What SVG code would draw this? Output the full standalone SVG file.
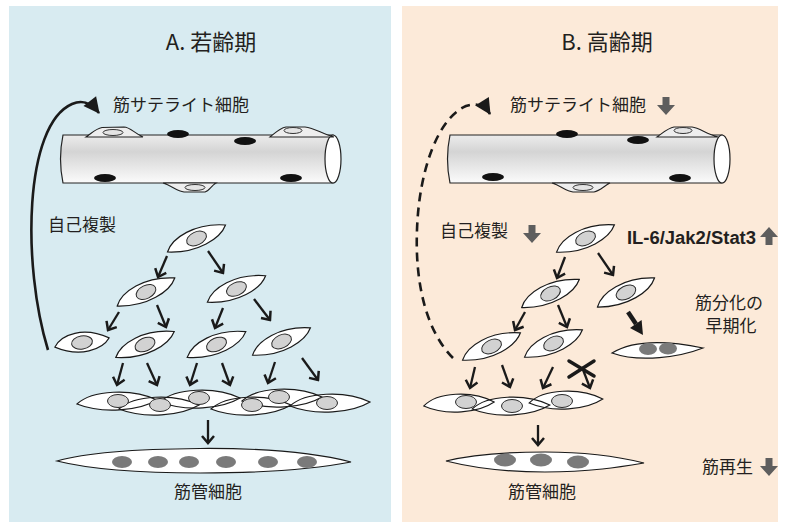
<svg xmlns="http://www.w3.org/2000/svg" xmlns:xlink="http://www.w3.org/1999/xlink" width="786" height="522" viewBox="0 0 786 522">
  <style>
    .lbl { font-family: "Noto Sans CJK JP", "Noto Sans", sans-serif; font-size: 17px; fill: #231f20; }
    .ttl { font-family: "Noto Sans CJK JP", "Noto Sans", sans-serif; font-size: 22px; fill: #231f20; }
    .bold { font-family: "Liberation Sans", Arial, sans-serif; font-weight: bold; font-size: 18px; fill: #231f20; }
    .fiber { fill: url(#fiberGrad); stroke: #222; stroke-width: 1.2; }
    .fend { fill: #ffffff; stroke: #222; stroke-width: 1.2; }
    .bump { fill: #eeeeee; stroke: #222; stroke-width: 1.1; }
    .bnuc { fill: #e4e4e4; stroke: #333; stroke-width: 1; }
    .fnuc { fill: #111; }
    .cell { fill: #ffffff; stroke: #1a1a1a; stroke-width: 1.2; }
    .cfill { fill: #ffffff; stroke: none; }
    .cline { fill: none; stroke: #1a1a1a; stroke-width: 1.2; }
    .nuc { fill: #d2d2d2; stroke: #2a2a2a; stroke-width: 1; }
    .mnuc { fill: #7a7a7a; }
    .arr { fill: none; stroke: #1a1a1a; stroke-width: 2.3; marker-end: url(#chev); }
    .curve { fill: none; stroke: #1a1a1a; stroke-width: 2.6; marker-end: url(#head); }
    .dash { stroke-dasharray: 9 6; }
    .blk { fill: #5e5e5e; }
    .xmark { stroke: #1a1a1a; stroke-width: 3.5; stroke-linecap: round; }
  </style>
  <defs>
    <linearGradient id="fiberGrad" x1="0" y1="0" x2="0" y2="1">
      <stop offset="0" stop-color="#ececec"/>
      <stop offset="0.35" stop-color="#d4d4d4"/>
      <stop offset="1" stop-color="#fbfbfb"/>
    </linearGradient>
    <marker id="chev" viewBox="-9 -8 11 16" refX="0" refY="0" markerWidth="11" markerHeight="16" markerUnits="userSpaceOnUse" orient="auto">
      <path d="M-7,-6 L0,0 L-7,6" fill="none" stroke="#1a1a1a" stroke-width="2.5"/>
    </marker>
    <marker id="head" viewBox="-16 -9 18 18" refX="0" refY="0" markerWidth="18" markerHeight="18" markerUnits="userSpaceOnUse" orient="auto">
      <path d="M-15,-8 L1,0 L-15,8 Z" fill="#1a1a1a"/>
    </marker>
    <!-- spindle-shaped myoblast outline, long axis along x -->
    <path id="sp" d="M-32,0 C-22,-11 5,-15 32,0 C22,10 -5,14 -32,0 Z"/>
    <!-- wavy fusing myoblast outline -->
    <path id="wv" d="M-40,3 C-25,-11 15,-13 40,-1 C22,10 -15,13 -40,3 Z"/>
    <!-- block arrow pointing down -->
    <path id="down" d="M-3.5,0 H3.5 V8 H9 L0,18 L-9,8 H-3.5 Z"/>
  </defs>

  <!-- panels -->
  <rect x="9" y="6" width="382" height="516" fill="#d8ebf1"/>
  <rect x="402" y="6" width="376" height="516" fill="#fcead9"/>

  <text class="ttl" x="211" y="50" text-anchor="middle">A. 若齢期</text>
  <text class="ttl" x="607" y="50" text-anchor="middle">B. 高齢期</text>

  <!-- young muscle fiber -->
  <g id="fiberA">
    <path class="fiber" d="M63,135 L333,135 L333,183 L63,183 Q58,159 63,135 Z"/>
    <ellipse class="fend" cx="333" cy="159" rx="8" ry="24"/>
    <ellipse class="fnuc" cx="178" cy="134" rx="11" ry="4"/>
    <ellipse class="fnuc" cx="245" cy="141" rx="11" ry="4"/>
    <ellipse class="fnuc" cx="105" cy="178" rx="11" ry="4"/>
    <ellipse class="fnuc" cx="291" cy="178" rx="11" ry="4"/>
    <path class="bump" d="M86,137 C92,133 96,128.5 102,127.5 L124,127 C130,127 134,133 143,137 Z"/>
    <ellipse class="bnuc" cx="113" cy="132.5" rx="10" ry="3"/>
    <path class="bump" d="M270,137 C276,132 280,128 286,127 L305,127 C315,128 322,134 334,137 Z"/>
    <ellipse class="bnuc" cx="293" cy="130.5" rx="9" ry="3"/>
    <path class="bump" d="M163,183 C172,186 177,191 184,192 L205,192 C209,191 211,186 216,183 Z"/>
    <ellipse class="bnuc" cx="195" cy="187.5" rx="10" ry="3"/>
  </g>

  <!-- aged muscle fiber -->
  <g id="fiberB">
    <path class="fiber" d="M450,135 L722,135 L722,183 L450,183 Q445,159 450,135 Z"/>
    <ellipse class="fend" cx="722" cy="159" rx="8" ry="24"/>
    <ellipse class="fnuc" cx="567" cy="134" rx="11" ry="4"/>
    <ellipse class="fnuc" cx="638" cy="140" rx="11" ry="4"/>
    <ellipse class="fnuc" cx="493" cy="177" rx="11" ry="4"/>
    <ellipse class="fnuc" cx="680" cy="178" rx="11" ry="4"/>
    <path class="bump" d="M657,137 C664,132 668,128 674,127 L692,127 C700,128 706,134 718,137 Z"/>
    <ellipse class="bnuc" cx="683" cy="130.5" rx="9" ry="3"/>
    <path class="bump" d="M552,183 C561,186 566,191 573,192 L594,192 C600,191 604,186 610,183 Z"/>
    <ellipse class="bnuc" cx="583" cy="187.5" rx="10" ry="3"/>
  </g>

  <!-- young myoblast lineage -->
  <g id="a-c1" transform="translate(196.5,238.5) rotate(-25)"><use href="#sp" class="cell"/><ellipse class="nuc" rx="10.5" ry="6.5"/></g>
  <g id="a-c2a" transform="translate(146,292) rotate(-26)"><use href="#sp" class="cell"/><ellipse class="nuc" rx="10.5" ry="6.5"/></g>
  <g id="a-c2b" transform="translate(236.5,289) rotate(-24.5)"><use href="#sp" class="cell"/><ellipse class="nuc" rx="10.5" ry="6.5"/></g>
  <g id="a-c3a" transform="translate(82,342.5) rotate(-9.5)"><use href="#sp" class="cell" transform="scale(0.86,1.05)"/><ellipse class="nuc" rx="10.5" ry="6.5"/></g>
  <g id="a-c3b" transform="translate(145,344.5) rotate(-24)"><use href="#sp" class="cell"/><ellipse class="nuc" rx="10.5" ry="6.5"/></g>
  <g id="a-c3c" transform="translate(216.5,344.5) rotate(-23.7)"><use href="#sp" class="cell"/><ellipse class="nuc" rx="10.5" ry="6.5"/></g>
  <g id="a-c3d" transform="translate(281.5,341.5) rotate(-25.3)"><use href="#sp" class="cell"/><ellipse class="nuc" rx="10.5" ry="6.5"/></g>

  <!-- young fusing myoblasts -->
  <g id="a-row4">
    <use href="#wv" class="cfill" transform="translate(117,401)"/>
    <use href="#wv" class="cfill" transform="translate(200,399)"/>
    <use href="#wv" class="cfill" transform="translate(282,398)"/>
    <use href="#wv" class="cfill" transform="translate(159,406)"/>
    <use href="#wv" class="cfill" transform="translate(251,406)"/>
    <use href="#wv" class="cfill" transform="translate(330,403)"/>
    <use href="#wv" class="cline" transform="translate(117,401)"/>
    <use href="#wv" class="cline" transform="translate(200,399)"/>
    <use href="#wv" class="cline" transform="translate(282,398)"/>
    <use href="#wv" class="cline" transform="translate(159,406)"/>
    <use href="#wv" class="cline" transform="translate(251,406)"/>
    <use href="#wv" class="cline" transform="translate(330,403)"/>
    <ellipse class="nuc" cx="118" cy="401" rx="10.5" ry="6.5"/>
    <ellipse class="nuc" cx="160" cy="405" rx="10.5" ry="6.5"/>
    <ellipse class="nuc" cx="199" cy="398" rx="10.5" ry="6.5"/>
    <ellipse class="nuc" cx="252" cy="405" rx="10.5" ry="6.5"/>
    <ellipse class="nuc" cx="279" cy="397" rx="10.5" ry="6.5"/>
    <ellipse class="nuc" cx="327" cy="403" rx="10.5" ry="6.5"/>
  </g>

  <!-- young myotube -->
  <g id="a-tube">
    <path class="cell" d="M57,461 C85,453 130,449 200,448.5 C270,448 320,454 351,462 C320,468 270,473 200,473 C130,473 85,468 57,461 Z"/>
    <ellipse class="mnuc" cx="122" cy="462" rx="10" ry="6"/>
    <ellipse class="mnuc" cx="158" cy="462" rx="10" ry="6"/>
    <ellipse class="mnuc" cx="189" cy="462" rx="10" ry="6"/>
    <ellipse class="mnuc" cx="226" cy="462" rx="10" ry="6"/>
    <ellipse class="mnuc" cx="268" cy="462" rx="10" ry="6"/>
    <ellipse class="mnuc" cx="307" cy="462" rx="10" ry="6"/>
  </g>

  <!-- aged myoblast lineage -->
  <g id="b-c1" transform="translate(585.5,238.5) rotate(-25.3)"><use href="#sp" class="cell"/><ellipse class="nuc" rx="10.5" ry="6.5"/></g>
  <g id="b-c2a" transform="translate(550.5,293.5) rotate(-26)"><use href="#sp" class="cell"/><ellipse class="nuc" rx="10.5" ry="6.5"/></g>
  <g id="b-c2b" transform="translate(626,292.5) rotate(-27)"><use href="#sp" class="cell"/><ellipse class="nuc" rx="10.5" ry="6.5"/></g>
  <g id="b-c3a" transform="translate(491.5,346.5) rotate(-25.3)"><use href="#sp" class="cell"/><ellipse class="nuc" rx="10.5" ry="6.5"/></g>
  <g id="b-c3b" transform="translate(553.5,343.5) rotate(-25.3)"><use href="#sp" class="cell"/><ellipse class="nuc" rx="10.5" ry="6.5"/></g>
  <g id="b-early">
    <path class="cell" d="M612,353 C630,342 660,339 703,348 C680,357 640,363 612,353 Z"/>
    <ellipse class="mnuc" cx="648" cy="349" rx="9" ry="6"/>
    <ellipse class="mnuc" cx="668" cy="348.5" rx="9" ry="6"/>
  </g>

  <!-- aged fusing myoblasts -->
  <g id="b-row4">
    <use href="#wv" class="cfill" transform="translate(459,403) scale(0.88,1)"/>
    <use href="#wv" class="cfill" transform="translate(566,400) scale(0.92,1)"/>
    <use href="#wv" class="cfill" transform="translate(511,406) scale(0.97,1)"/>
    <use href="#wv" class="cline" transform="translate(459,403) scale(0.88,1)"/>
    <use href="#wv" class="cline" transform="translate(566,400) scale(0.92,1)"/>
    <use href="#wv" class="cline" transform="translate(511,406) scale(0.97,1)"/>
    <ellipse class="nuc" cx="466" cy="402" rx="10.5" ry="6.5"/>
    <ellipse class="nuc" cx="512" cy="406" rx="10.5" ry="6.5"/>
    <ellipse class="nuc" cx="562" cy="401" rx="10.5" ry="6.5"/>
  </g>

  <!-- aged myotube -->
  <g id="b-tube">
    <path class="cell" d="M446,461 C470,455 500,452 545,452 C590,452 620,457 644,463 C620,467 590,472 545,472 C500,472 470,467 446,461 Z"/>
    <ellipse class="mnuc" cx="505" cy="460" rx="11" ry="6.5"/>
    <ellipse class="mnuc" cx="541" cy="460" rx="11" ry="6.5"/>
    <ellipse class="mnuc" cx="578" cy="462" rx="11" ry="6.5"/>
  </g>

  <!-- connectors -->
  <g id="connectors">
    <path class="curve" d="M48,350 C22,265 24,125 72,104 C84,99 92,104 99,113"/>
    <path class="curve dash" d="M453,358 C425,330 415,280 417,230 C419,170 438,118 466,106 C478,102 485,106 490,114"/>

    <line class="arr" x1="167" y1="256" x2="158" y2="277"/>
    <line class="arr" x1="208" y1="251" x2="223" y2="273"/>
    <line class="arr" x1="119" y1="312" x2="108" y2="330"/>
    <line class="arr" x1="157" y1="305" x2="166" y2="327"/>
    <line class="arr" x1="223" y1="308" x2="215" y2="328"/>
    <line class="arr" x1="254" y1="299" x2="270" y2="320"/>
    <line class="arr" x1="123" y1="363" x2="117" y2="385"/>
    <line class="arr" x1="147" y1="363" x2="157" y2="385"/>
    <line class="arr" x1="197" y1="363" x2="190" y2="385"/>
    <line class="arr" x1="222" y1="363" x2="230" y2="385"/>
    <line class="arr" x1="275" y1="362" x2="268" y2="383"/>
    <line class="arr" x1="302" y1="358" x2="318" y2="380"/>
    <line class="arr" x1="208" y1="420" x2="208" y2="443"/>

    <line class="arr" x1="565" y1="257" x2="557" y2="278"/>
    <line class="arr" x1="598" y1="253" x2="613" y2="275"/>
    <line class="arr" x1="525" y1="312" x2="515" y2="330"/>
    <line class="arr" x1="558" y1="305" x2="567" y2="327"/>
    <line class="arr" x1="475" y1="367" x2="470" y2="388"/>
    <line class="arr" x1="502" y1="365" x2="510" y2="387"/>
    <line class="arr" x1="553" y1="367" x2="543" y2="388"/>
    <line class="arr" x1="582" y1="367" x2="590" y2="388"/>
    <line class="arr" x1="538" y1="425" x2="538" y2="445"/>

    <!-- early differentiation arrow -->
    <line x1="628" y1="312" x2="636" y2="324" stroke="#1a1a1a" stroke-width="4.5"/>
    <path d="M643,335 L630,328 L641.6,320 Z" fill="#1a1a1a"/>

    <!-- blocked step -->
    <line class="xmark" x1="569" y1="361" x2="594" y2="376"/>
    <line class="xmark" x1="569" y1="377" x2="594" y2="361"/>
  </g>

  <!-- labels -->
  <text class="lbl" x="113" y="111">筋サテライト細胞</text>
  <text class="lbl" x="48" y="231">自己複製</text>
  <text class="lbl" x="208" y="498" text-anchor="middle">筋管細胞</text>

  <text class="lbl" x="510" y="111">筋サテライト細胞</text>
  <use href="#down" class="blk" x="666" y="97"/>
  <text class="lbl" x="440" y="237">自己複製</text>
  <use href="#down" class="blk" x="532" y="225"/>
  <text class="bold" x="627" y="244" textLength="129" lengthAdjust="spacingAndGlyphs">IL-6/Jak2/Stat3</text>
  <use href="#down" class="blk" transform="translate(769,245) scale(1,-1)"/>
  <text class="lbl" x="729" y="309" text-anchor="middle">筋分化の</text>
  <text class="lbl" x="731" y="332" text-anchor="middle">早期化</text>
  <text class="lbl" x="702" y="473">筋再生</text>
  <use href="#down" class="blk" x="769" y="458"/>
  <text class="lbl" x="542" y="498" text-anchor="middle">筋管細胞</text>
</svg>
